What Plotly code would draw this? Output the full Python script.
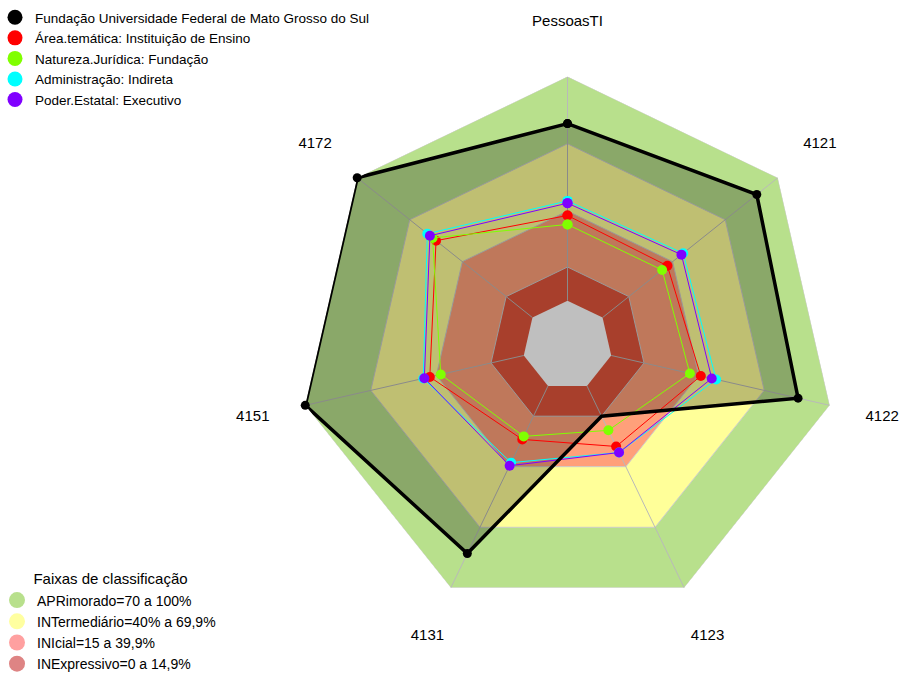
import plotly.graph_objects as go

categories = ["PessoasTI", "4121", "4122", "4123", "4131", "4151", "4172"]

series_names = [
    "Fundação Universidade Federal de Mato Grosso do Sul",
    "Área.temática: Instituição de Ensino",
    "Natureza.Jurídica: Fundação",
    "Administração: Indireta",
    "Poder.Estatal: Executivo",
]
ufms = [79, 88, 85.5, 15, 83, 100, 100]
area_tematica = [38, 37, 41, 30, 26.5, 43, 55]
natureza = [34, 34, 36, 22, 25, 38, 57]
administracao = [44.5, 46, 48, 33, 38, 46, 60]
poder = [43.5, 45, 46, 33, 39.5, 45.5, 58.5]
series_values = [ufms, area_tematica, natureza, administracao, poder]
series_colors = ["#000000", "#FF0000", "#80FF00", "#00FFFF", "#8000FF"]

band_names = [
    "APRimorado=70 a 100%",
    "INTermediário=40% a 69,9%",
    "INIcial=15 a 39,9%",
    "INExpressivo=0 a 14,9%",
]
band_upper = [100, 70, 40, 15]
band_fill = ["#B8E08C", "#FFFF99", "#FFA07A", "#E0553B"]
band_legend = ["#B8E08C", "#FFFFA0", "#FFA0A0", "#DE8484"]

FONT = "Liberation Sans, Arial, sans-serif"

# chart geometry (pixels): centre and outer radius; labels sit at 1.2 x radius
W, H = 900, 673
CX, CY, RAD = 567.5, 345.5, 269.0
LABEL_SCALE = 1.2

def dom(cx, cy, r):
    return dict(x=[(cx - r) / W, (cx + r) / W],
                y=[(H - cy - r) / H, (H - cy + r) / H])

def closed(vals):
    return list(vals) + [vals[0]]

cats_closed = closed(categories)

fig = go.Figure()

# classification bands
for name, up, col in zip(band_names, band_upper, band_fill):
    fig.add_trace(go.Scatterpolar(
        r=[up] * len(cats_closed), theta=cats_closed, mode="lines",
        fill="toself", fillcolor=col,
        line=dict(color="rgba(205,205,205,1)", width=1),
        showlegend=False, hoverinfo="skip"))
# empty centre
fig.add_trace(go.Scatterpolar(
    r=[0] * len(cats_closed), theta=cats_closed, mode="lines",
    fill="toself", fillcolor="#FFFFFF", line=dict(color="rgba(0,0,0,0)", width=0),
    showlegend=False, hoverinfo="skip"))

# spokes
sr, st = [], []
for c in categories:
    sr += [0, 100, None]
    st += [c, c, None]
fig.add_trace(go.Scatterpolar(
    r=sr, theta=st, mode="lines", line=dict(color="rgba(185,185,185,1)", width=1),
    showlegend=False, hoverinfo="skip", connectgaps=False))

# black fill underneath
fig.add_trace(go.Scatterpolar(
    r=closed(ufms), theta=cats_closed, mode="lines", fill="toself",
    fillcolor="rgba(0,0,0,0.25)", line=dict(width=0, color="rgba(0,0,0,0)"),
    showlegend=False, hoverinfo="skip"))

# coloured series
for name, vals, col in list(zip(series_names, series_values, series_colors))[1:]:
    fig.add_trace(go.Scatterpolar(
        r=closed(vals), theta=cats_closed, mode="lines+markers",
        line=dict(color=col, width=1), marker=dict(color=col, size=10),
        name=name, showlegend=False))

# black series line on top
fig.add_trace(go.Scatterpolar(
    r=closed(ufms), theta=cats_closed, mode="lines+markers",
    line=dict(color="#000000", width=3.5), marker=dict(color="#000000", size=9),
    name=series_names[0], showlegend=False))

# category labels on an overlaid, 1.2x larger polar subplot (edge = 1.2 x radius)
fig.add_trace(go.Scatterpolar(
    r=[100] * len(categories), theta=categories, mode="text",
    text=categories, textposition="middle center",
    textfont=dict(size=15, family=FONT, color="#000000"),
    cliponaxis=False, showlegend=False, hoverinfo="skip", subplot="polar2"))

# legend entries (circles)
for i, (name, col) in enumerate(zip(series_names, series_colors)):
    fig.add_trace(go.Scatterpolar(
        r=[None], theta=[None], mode="markers", name=name,
        marker=dict(color=col, size=15), legend="legend", legendrank=i + 1))
for i, (name, col) in enumerate(zip(band_names, band_legend)):
    fig.add_trace(go.Scatterpolar(
        r=[None], theta=[None], mode="markers", name=name,
        marker=dict(color=col, size=16), legend="legend2", legendrank=i + 1))

angular_common = dict(
    type="category", categoryarray=categories, direction="clockwise",
    rotation=90, showgrid=False, showline=False, ticks="", showticklabels=False)

fig.update_layout(
    width=W, height=H,
    margin=dict(l=0, r=0, t=0, b=0, autoexpand=False),
    paper_bgcolor="white", plot_bgcolor="white",
    font=dict(family=FONT, size=14, color="#000000"),
    polar=dict(
        domain=dom(CX, CY, RAD),
        bgcolor="rgba(0,0,0,0)",
        gridshape="linear",
        radialaxis=dict(range=[-20, 100], visible=False, showgrid=False),
        angularaxis=angular_common,
    ),
    polar2=dict(
        domain=dom(CX, CY, RAD * LABEL_SCALE),
        bgcolor="rgba(0,0,0,0)",
        gridshape="linear",
        radialaxis=dict(range=[-20, 100], visible=False, showgrid=False),
        angularaxis=angular_common,
    ),
    legend=dict(x=0, y=0.997, xanchor="left", yanchor="top", indentation=-5,
                bgcolor="rgba(0,0,0,0)", font=dict(size=13.5, family=FONT),
                itemclick=False, itemdoubleclick=False),
    legend2=dict(x=0, y=-0.0104, xanchor="left", yanchor="bottom", indentation=-3,
                 bgcolor="rgba(0,0,0,0)", font=dict(size=14, family=FONT),
                 title=dict(text="Faixas de classificação", side="top center",
                            font=dict(size=15, family=FONT)),
                 itemclick=False, itemdoubleclick=False),
)

fig.write_html(
    "out.html",
    config={"displayModeBar": False},
    post_script="document.body.style.margin='0';document.body.style.overflow='hidden';",
)
